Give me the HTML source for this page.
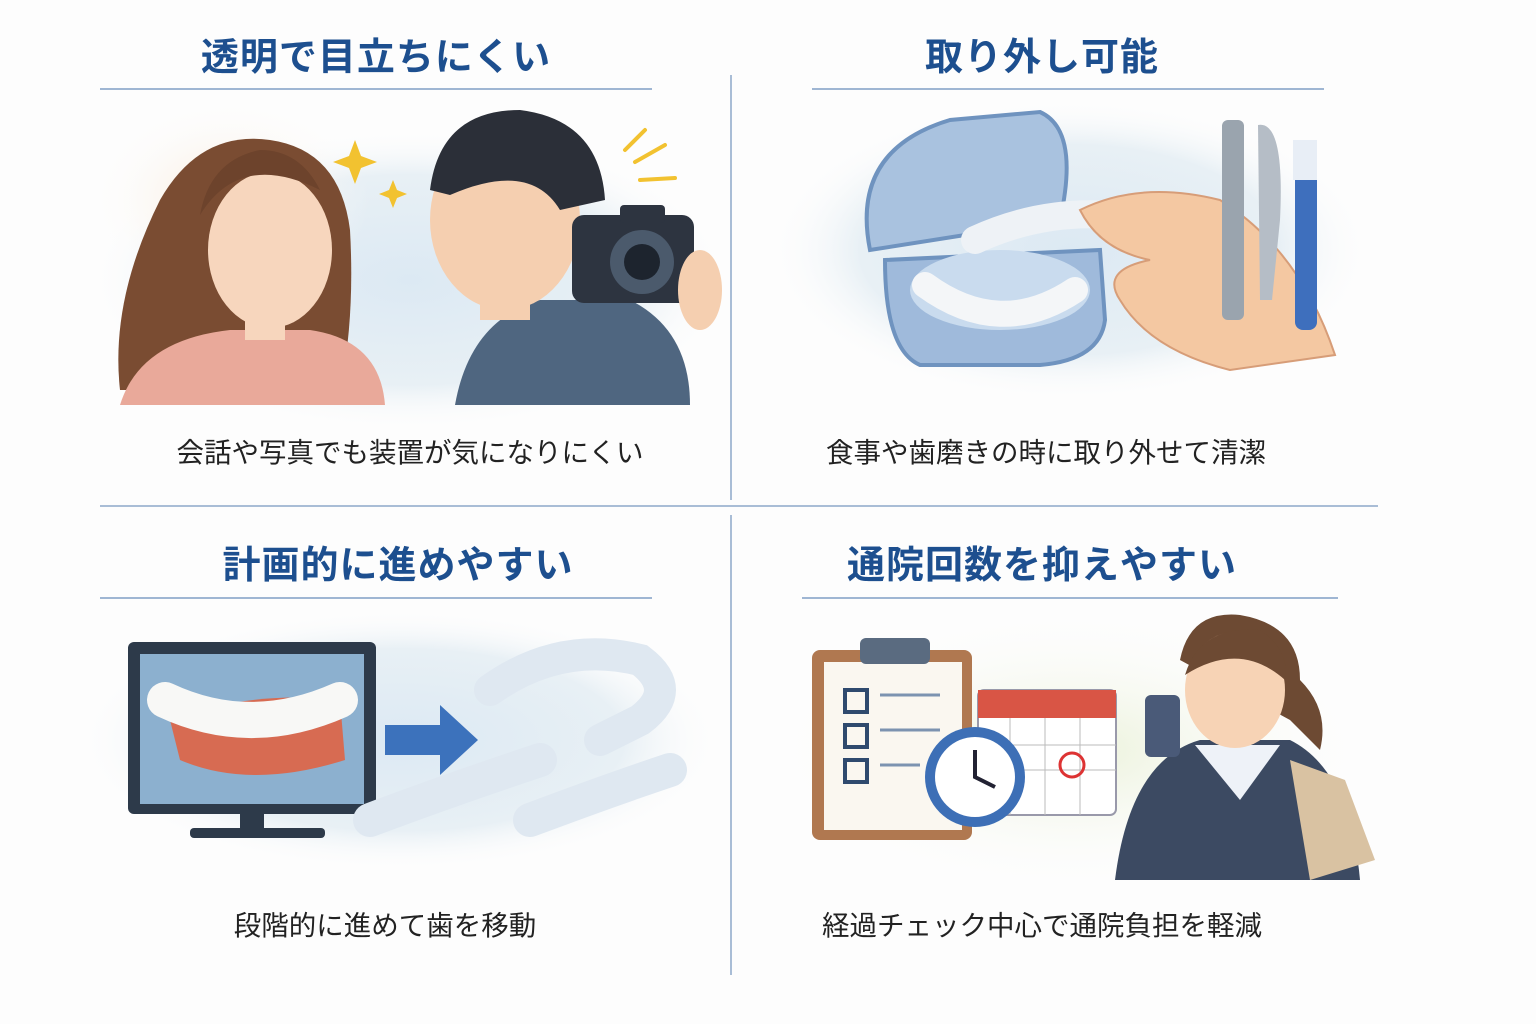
<!DOCTYPE html>
<html><head><meta charset="utf-8"><style>
html,body{margin:0;padding:0;background:#fdfdfd;}
body{width:1536px;height:1024px;position:relative;overflow:hidden;font-family:"Liberation Sans","Noto Sans CJK JP",sans-serif;}
.t{position:absolute;font-weight:bold;font-size:38px;color:#1d4f8f;text-align:center;white-space:nowrap;letter-spacing:1px}
.c{position:absolute;font-size:27.5px;color:#222;text-align:center;white-space:nowrap}
.l{position:absolute;height:2px;background:#9fb6d3}
svg{position:absolute;left:0;top:0}
</style></head><body>
<svg width="1536" height="1024" viewBox="0 0 1536 1024">
<defs>
<radialGradient id="bg1" cx="50%" cy="50%" r="50%"><stop offset="0" stop-color="#dce9f3"/><stop offset="0.7" stop-color="#e8f0f5"/><stop offset="1" stop-color="#fdfdfd" stop-opacity="0"/></radialGradient>
<radialGradient id="bg2" cx="50%" cy="50%" r="50%"><stop offset="0" stop-color="#f8e8d4"/><stop offset="1" stop-color="#fdfdfd" stop-opacity="0"/></radialGradient>
<radialGradient id="bg3" cx="50%" cy="50%" r="50%"><stop offset="0" stop-color="#eaf1d8"/><stop offset="1" stop-color="#fdfdfd" stop-opacity="0"/></radialGradient>
</defs>
<line x1="731" y1="75" x2="731" y2="500" stroke="#a9bdd6" stroke-width="2"/>
<line x1="731" y1="515" x2="731" y2="975" stroke="#a9bdd6" stroke-width="2"/>
<line x1="100" y1="506" x2="1378" y2="506" stroke="#a9bdd6" stroke-width="2"/>
<ellipse cx="410" cy="280" rx="320" ry="150" fill="url(#bg1)"/>
<ellipse cx="230" cy="200" rx="140" ry="100" fill="url(#bg2)"/>
<path d="M120 390 Q110 300 160 200 Q200 130 270 140 Q340 150 350 230 Q355 320 340 390 Z" fill="#7a4c32"/>
<ellipse cx="270" cy="250" rx="62" ry="78" fill="#f7d6bd"/>
<path d="M200 215 Q240 150 320 190 Q300 150 260 150 Q210 160 200 215Z" fill="#6d432c"/>
<path d="M120 405 Q140 340 230 330 L310 330 Q380 340 385 405Z" fill="#e9a99a"/>
<rect x="245" y="310" width="40" height="30" fill="#f7d6bd"/>
<path d="M455 405 Q470 320 540 300 L630 300 Q690 330 690 405Z" fill="#4f6680"/>
<ellipse cx="505" cy="220" rx="75" ry="90" fill="#f5cfb0"/>
<path d="M430 190 Q440 110 520 110 Q600 120 605 200 L560 210 Q530 160 450 195Z" fill="#2b2f38"/>
<rect x="480" y="290" width="50" height="30" fill="#f5cfb0"/>
<rect x="572" y="215" width="122" height="88" rx="12" fill="#2d3440"/>
<rect x="620" y="205" width="45" height="18" rx="4" fill="#2d3440"/>
<circle cx="642" cy="262" r="32" fill="#4b5a6c"/><circle cx="642" cy="262" r="18" fill="#1d242e"/>
<ellipse cx="700" cy="290" rx="22" ry="40" fill="#f5cfb0"/>
<path d="M355 140 l6 16 16 6 -16 6 -6 16 -6-16 -16-6 16-6z" fill="#f2c230"/>
<path d="M393 180 l4 10 10 4 -10 4 -4 10 -4-10 -10-4 10-4z" fill="#f2c230"/>
<path d="M625 150 L645 130 M635 162 L665 145 M640 180 L675 178" stroke="#f2c230" stroke-width="4" stroke-linecap="round"/>
<ellipse cx="1070" cy="250" rx="300" ry="150" fill="url(#bg1)"/>
<path d="M870 250 Q850 150 950 120 L1040 112 Q1080 130 1060 220 Z" fill="#a9c2df" stroke="#6f93bf" stroke-width="4"/>
<path d="M885 260 L1100 250 L1105 320 Q1100 360 1040 365 L920 365 Q885 350 885 260Z" fill="#9fbadb" stroke="#6f93bf" stroke-width="4"/>
<ellipse cx="1000" cy="290" rx="90" ry="40" fill="#c9dbee"/>
<path d="M925 285 Q1000 340 1075 290" stroke="#f4f6f8" stroke-width="26" fill="none" stroke-linecap="round"/>
<path d="M975 240 Q1040 210 1110 215" stroke="#eef2f6" stroke-width="28" fill="none" stroke-linecap="round"/>
<path d="M1080 210 Q1140 180 1220 200 Q1300 250 1335 355 L1230 370 Q1150 350 1120 300 Q1100 270 1150 260 Q1100 250 1080 210Z" fill="#f4c8a2" stroke="#d79d78" stroke-width="2"/>
<rect x="1222" y="120" width="22" height="200" rx="6" fill="#9aa4ae"/>
<path d="M1258 125 Q1285 120 1280 220 L1272 300 L1260 300Z" fill="#b5bdc6"/>
<rect x="1295" y="140" width="22" height="190" rx="8" fill="#3e6fbd"/>
<rect x="1293" y="140" width="24" height="40" fill="#e8eef6"/>
<ellipse cx="400" cy="740" rx="320" ry="130" fill="url(#bg1)"/>
<rect x="128" y="642" width="248" height="172" rx="6" fill="#2d3a4a"/>
<rect x="140" y="654" width="224" height="150" fill="#8cb0cf"/>
<path d="M170 720 Q250 690 340 700 L345 760 Q250 790 180 760Z" fill="#d76b52"/>
<path d="M165 700 Q250 740 340 700" stroke="#f8f8f6" stroke-width="36" fill="none" stroke-linecap="round"/>
<rect x="240" y="812" width="24" height="20" fill="#2d3a4a"/><rect x="190" y="828" width="135" height="10" rx="4" fill="#2d3a4a"/>
<path d="M385 725 L440 725 L440 705 L478 740 L440 775 L440 755 L385 755Z" fill="#3c72bc"/>
<path d="M490 690 Q560 640 640 660 Q680 690 640 720 L600 740" stroke="#dfe8f1" stroke-width="32" fill="none" stroke-linecap="round"/>
<path d="M370 820 Q450 790 540 760" stroke="#dfe8f1" stroke-width="34" fill="none" stroke-linecap="round"/>
<path d="M530 820 Q610 790 670 770" stroke="#dfe8f1" stroke-width="34" fill="none" stroke-linecap="round"/>
<ellipse cx="1070" cy="750" rx="300" ry="140" fill="url(#bg3)"/>
<rect x="812" y="650" width="160" height="190" rx="8" fill="#b07850"/>
<rect x="824" y="662" width="138" height="168" fill="#faf7f0"/>
<rect x="860" y="638" width="70" height="26" rx="6" fill="#5a6b80"/>
<g stroke="#2f4a6e" stroke-width="4" fill="none"><rect x="845" y="690" width="22" height="22"/><rect x="845" y="725" width="22" height="22"/><rect x="845" y="760" width="22" height="22"/></g>
<g stroke="#7c93b0" stroke-width="3"><line x1="880" y1="695" x2="940" y2="695"/><line x1="880" y1="730" x2="940" y2="730"/><line x1="880" y1="765" x2="920" y2="765"/></g>
<rect x="978" y="690" width="138" height="125" rx="6" fill="#fff" stroke="#99a" stroke-width="2"/>
<rect x="978" y="690" width="138" height="28" fill="#d95545"/>
<g stroke="#bbb"><line x1="978" y1="745" x2="1116" y2="745"/><line x1="978" y1="770" x2="1116" y2="770"/><line x1="1010" y1="718" x2="1010" y2="815"/><line x1="1045" y1="718" x2="1045" y2="815"/><line x1="1080" y1="718" x2="1080" y2="815"/></g>
<circle cx="1072" cy="765" r="12" fill="none" stroke="#d33" stroke-width="3"/>
<circle cx="975" cy="777" r="50" fill="#3d6fb6"/><circle cx="975" cy="777" r="40" fill="#fff"/>
<path d="M975 750 L975 777 L995 787" stroke="#223" stroke-width="4" fill="none"/>
<path d="M1115 880 Q1130 760 1200 740 L1290 740 Q1350 770 1360 880Z" fill="#3c4a62"/>
<path d="M1195 745 L1240 800 L1280 745Z" fill="#eef2f8"/>
<path d="M1180 660 Q1190 610 1240 615 Q1300 625 1300 680 Q1330 710 1320 750 L1290 720 Z" fill="#6d4a33"/>
<ellipse cx="1235" cy="690" rx="50" ry="58" fill="#f7d3b5"/>
<path d="M1185 675 Q1200 625 1260 630 Q1290 650 1285 680 Q1240 640 1185 675Z" fill="#6d4a33"/>
<rect x="1145" y="695" width="35" height="62" rx="6" fill="#4a5a78"/>
<path d="M1290 760 L1345 780 L1375 860 L1310 880Z" fill="#d9c2a2"/>
</svg>
<div class="t" style="left:100px;width:552px;top:26px">透明で目立ちにくい</div>
<div class="t" style="left:812px;width:460px;top:26px">取り外し可能</div>
<div class="t" style="left:100px;width:596px;top:534px">計画的に進めやすい</div>
<div class="t" style="left:812px;width:460px;top:534px">通院回数を抑えやすい</div>
<div class="l" style="left:100px;width:552px;top:88px"></div>
<div class="l" style="left:812px;width:512px;top:88px"></div>
<div class="l" style="left:100px;width:552px;top:597px"></div>
<div class="l" style="left:802px;width:536px;top:597px"></div>
<div class="c" style="left:100px;width:620px;top:430px">会話や写真でも装置が気になりにくい</div>
<div class="c" style="left:780px;width:532px;top:430px">食事や歯磨きの時に取り外せて清潔</div>
<div class="c" style="left:150px;width:470px;top:903px">段階的に進めて歯を移動</div>
<div class="c" style="left:780px;width:524px;top:903px">経過チェック中心で通院負担を軽減</div>
</body></html>
